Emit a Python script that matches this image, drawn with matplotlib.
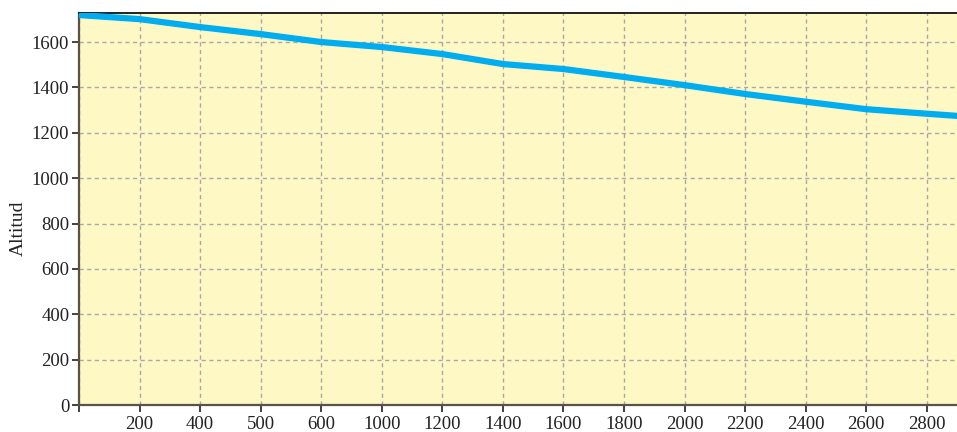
import numpy as np
import matplotlib
matplotlib.use('Agg')
import matplotlib.pyplot as plt

# Distance categories (first one has no visible label, last one is cut off by the frame)
distances = ['0', '200', '400', '500', '600', '1000', '1200', '1400', '1600',
             '1800', '2000', '2200', '2400', '2600', '2800', '3000']
altitude = [1719, 1701, 1666, 1635, 1600, 1578, 1547, 1503, 1481,
            1446, 1410, 1371, 1337, 1304, 1284, 1265]
y_ticks = [0, 200, 400, 600, 800, 1000, 1200, 1400, 1600]

plt.rcParams['font.family'] = ['Liberation Serif', 'DejaVu Serif']

fig = plt.figure(figsize=(9.57, 4.32), dpi=100)
ax = fig.add_axes([79 / 957, 1 - 405 / 432, 1 - 79 / 957, (405 - 13) / 432])
ax.set_facecolor('#fef8c4')

x = np.arange(len(distances))
ax.plot(x, altitude, color='#00aeef', linewidth=4.5, solid_capstyle='butt', zorder=3)

ax.set_xlim(0, 14.5)
ax.set_ylim(0, 1728)
ax.set_xticks(x[:-1])
ax.set_xticklabels([''] + distances[1:-1])
ax.set_yticks(y_ticks)
ax.grid(True, color='#a8a8a8', linestyle=(0, (3, 2.5)), linewidth=1.0)
ax.set_axisbelow(True)

ax.tick_params(axis='both', labelsize=13.5, colors='#222222', length=5, width=1.2,
               direction='out', pad=2)
ax.tick_params(axis='x', pad=3)

for side in ['left', 'bottom']:
    ax.spines[side].set_color('#5a5248')
    ax.spines[side].set_linewidth(1.6)
ax.spines['top'].set_color('#222222')
ax.spines['top'].set_linewidth(1.4)
ax.spines['right'].set_visible(False)

fig.text(18 / 957, 1 - 228 / 432, 'Altitud', rotation=90, fontsize=14,
         color='#222222', ha='center', va='center')

fig.savefig('out.png', dpi=100)
